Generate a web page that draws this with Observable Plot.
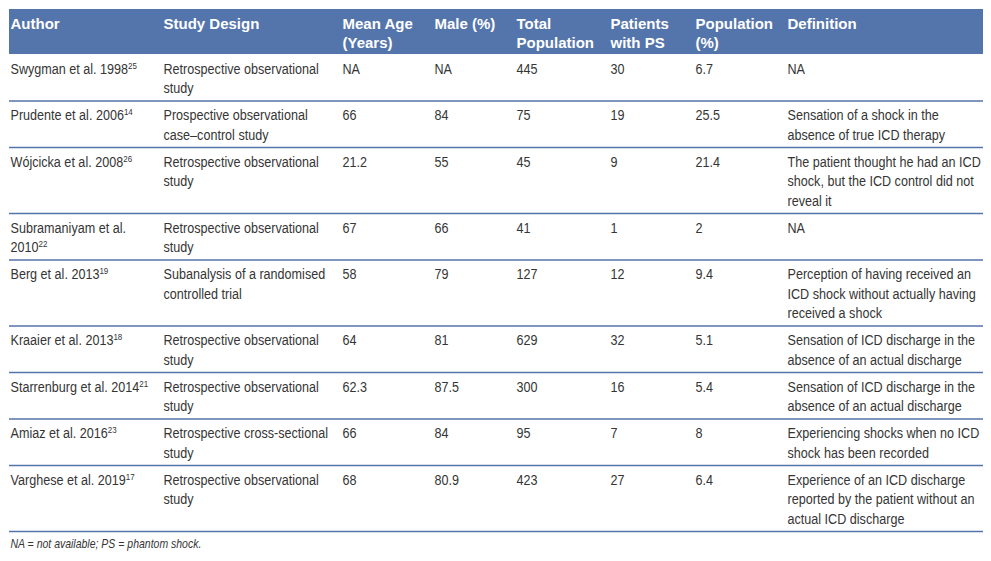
<!DOCTYPE html>
<html>
<head>
<meta charset="utf-8">
<script src="https://cdn.jsdelivr.net/npm/d3@7"></script>
<script src="https://cdn.jsdelivr.net/npm/@observablehq/plot@0.6"></script>
<style>
  html, body { margin: 0; padding: 0; background: #ffffff; }
  #chart svg { display: block; }
</style>
</head>
<body>
<div id="chart"></div>
<script>
// ---------------- data ----------------
const headers = ["Author", "Study Design", "Mean Age\n(Years)", "Male (%)", "Total\nPopulation", "Patients\nwith PS", "Population\n(%)", "Definition"];
const authors = ["Swygman et al. 1998", "Prudente et al. 2006", "Wójcicka et al. 2008", "Subramaniyam et al.\n2010", "Berg et al. 2013", "Kraaier et al. 2013", "Starrenburg et al. 2014", "Amiaz et al. 2016", "Varghese et al. 2019"];
const refs = ["25", "14", "26", "22", "19", "18", "21", "23", "17"];
const designs = [
  "Retrospective observational\nstudy",
  "Prospective observational\ncase–control study",
  "Retrospective observational\nstudy",
  "Retrospective observational\nstudy",
  "Subanalysis of a randomised\ncontrolled trial",
  "Retrospective observational\nstudy",
  "Retrospective observational\nstudy",
  "Retrospective cross-sectional\nstudy",
  "Retrospective observational\nstudy"
];
const meanAge = ["NA", "66", "21.2", "67", "58", "64", "62.3", "66", "68"];
const male = ["NA", "84", "55", "66", "79", "81", "87.5", "84", "80.9"];
const totalPopulation = ["445", "75", "45", "41", "127", "629", "300", "95", "423"];
const patientsPS = ["30", "19", "9", "1", "12", "32", "16", "7", "27"];
const populationPct = ["6.7", "25.5", "21.4", "2", "9.4", "5.1", "5.4", "8", "6.4"];
const definitions = [
  "NA",
  "Sensation of a shock in the\nabsence of true ICD therapy",
  "The patient thought he had an ICD\nshock, but the ICD control did not\nreveal it",
  "NA",
  "Perception of having received an\nICD shock without actually having\nreceived a shock",
  "Sensation of ICD discharge in the\nabsence of an actual discharge",
  "Sensation of ICD discharge in the\nabsence of an actual discharge",
  "Experiencing shocks when no ICD\nshock has been recorded",
  "Experience of an ICD discharge\nreported by the patient without an\nactual ICD discharge"
];
const footnote = "NA = not available; PS = phantom shock.";

// ---------------- layout ----------------
const W = 991, H = 561;
const tableLeft = 9, tableRight = 983, tableTop = 9;
const colLeft = [10, 163, 342, 434, 516, 610, 695, 787];
const fontSize = 15, lineHeightEm = 1.3;
const linePx = fontSize * lineHeightEm;     // 19.5
const headerHeight = 45;
const rowPad = 7.5;
const firstLineOffset = 5.5;                // cell top -> text anchor
const condense = 0.84;                      // horizontal condensing of body text
const navy = "#5475ab";
const textColor = "#353535";
const bodyFont = "'Liberation Sans', Arial, sans-serif";
const headFont = "'Liberation Sans', Arial, sans-serif";

const columns = [authors, designs, meanAge, male, totalPopulation, patientsPS, populationPct, definitions];
const nLines = s => String(s).split("\n").length;

// row tops from line counts
const rowTops = [];
const rowBottoms = [];
let yCur = tableTop + headerHeight;
for (let r = 0; r < authors.length; r++) {
  const lines = d3.max(columns, col => nLines(col[r]));
  rowTops.push(yCur);
  yCur += lines * linePx + rowPad;
  rowBottoms.push(yCur);
}
const tableBottom = yCur;

const cellY = top => top + firstLineOffset;

const headerCells = headers.map((h, c) => ({text: h, x: colLeft[c], y: cellY(tableTop)}));
const bodyCells = [];
columns.forEach((col, c) => {
  if (c === 0) return;
  col.forEach((v, r) => bodyCells.push({text: v, x: colLeft[c], y: cellY(rowTops[r])}));
});
const authorCells = authors.map((a, r) => ({text: a, ref: refs[r], x: colLeft[0], y: cellY(rowTops[r])}));

const plot = Plot.plot({
  width: W,
  height: H,
  margin: 0,
  x: {domain: [0, W], range: [0, W], axis: null},
  y: {domain: [0, H], range: [0, H], axis: null},
  style: {background: "#ffffff"},
  marks: [
    Plot.rect([{}], {x1: tableLeft, x2: tableRight, y1: tableTop, y2: tableTop + headerHeight, fill: navy}),
    Plot.ruleY(rowBottoms, {x1: tableLeft, x2: tableRight, stroke: navy, strokeWidth: 1.4}),
    Plot.text(headerCells, {
      x: "x", y: "y", text: "text", textAnchor: "start", lineAnchor: "top",
      lineHeight: 1.27, fontSize: 15, fontWeight: "bold", fontFamily: headFont, fill: "#ffffff"
    }),
    Plot.text(authorCells, {
      x: "x", y: "y", text: "text", textAnchor: "start", lineAnchor: "top",
      lineHeight: lineHeightEm, fontSize, fontFamily: bodyFont, fill: textColor, className: "author-cell"
    }),
    Plot.text(bodyCells, {
      x: "x", y: "y", text: "text", textAnchor: "start", lineAnchor: "top",
      lineHeight: lineHeightEm, fontSize, fontFamily: bodyFont, fill: textColor, className: "body-cell"
    }),
    Plot.text([footnote], {
      x: colLeft[0], y: tableBottom + 8, text: d => d, textAnchor: "start", lineAnchor: "top",
      fontSize: 12.5, fontStyle: "italic", fontFamily: bodyFont, fill: textColor, className: "foot-note"
    })
  ]
});

// superscript reference numbers appended to the author names
plot.querySelectorAll("g.author-cell text").forEach((t, i) => {
  const tspans = t.querySelectorAll("tspan");
  const target = tspans.length ? tspans[tspans.length - 1] : t;
  const sup = document.createElementNS("http://www.w3.org/2000/svg", "tspan");
  sup.setAttribute("dy", "-0.55em");
  sup.setAttribute("font-size", "9.5");
  sup.textContent = authorCells[i].ref;
  target.appendChild(sup);
});

// condensed look for body text (the original uses a condensed typeface)
plot.querySelectorAll("g.author-cell text, g.body-cell text, g.foot-note text").forEach(t => {
  const tr = t.getAttribute("transform");
  if (tr) {
    t.setAttribute("transform", `${tr} scale(${condense},1)`);
  } else {
    const x = +t.getAttribute("x") || 0;
    t.setAttribute("transform", `translate(${x * (1 - condense)},0) scale(${condense},1)`);
  }
});

document.getElementById("chart").appendChild(plot);
</script>
</body>
</html>
